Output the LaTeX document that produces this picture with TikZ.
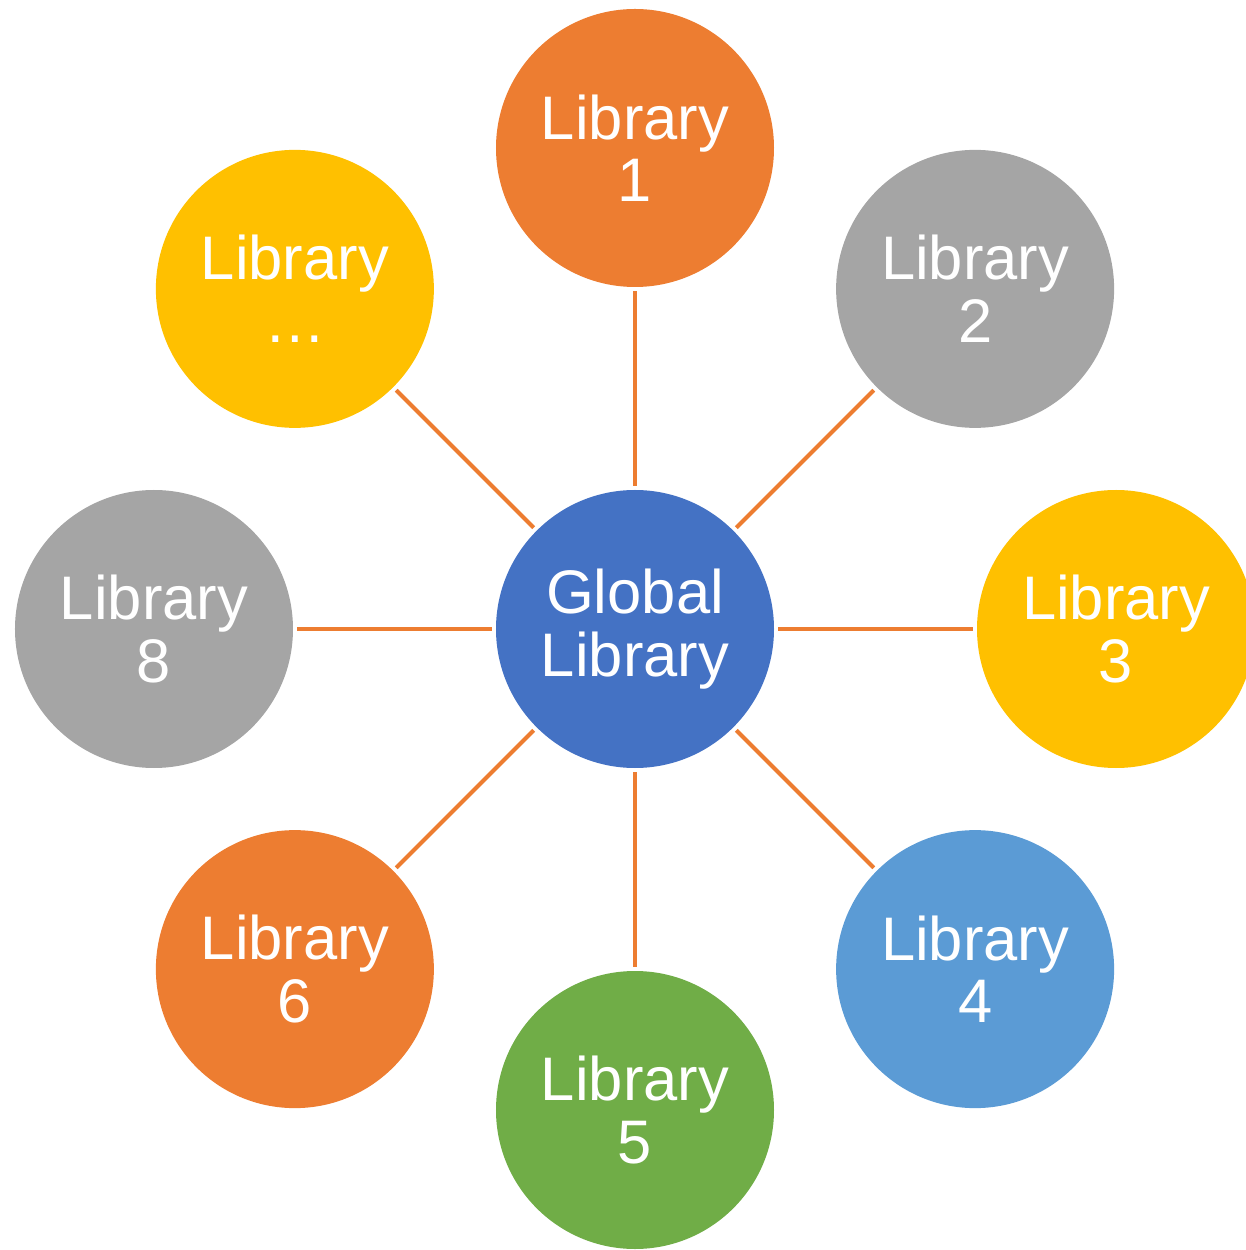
\documentclass[tikz,border=0pt]{standalone}
\usepackage{fontspec}
\setmainfont{Liberation Sans}
\usetikzlibrary{positioning}
\definecolor{hub}{RGB}{68,114,196}
\definecolor{orng}{RGB}{237,125,49}
\definecolor{grey}{RGB}{165,165,165}
\definecolor{gold}{RGB}{255,192,0}
\definecolor{sky}{RGB}{91,155,213}
\definecolor{leaf}{RGB}{112,173,71}
\tikzset{
  lib/.style={circle, minimum size=5.56cm, inner sep=0pt, align=center, text=white,
    font=\fontsize{35}{35.5}\selectfont},
  spoke/.style={draw=orng, line width=2.3pt, shorten <=0.08cm, shorten >=0.08cm},
}

\begin{document}
\begin{tikzpicture}
  \useasboundingbox (-12.7,-12.42) rectangle (12.22,12.58);
  % hub in the middle, eight libraries round it
  \node[lib, fill=hub] (global) at (0,0) {Global\\Library};
  \node[lib, fill=orng] (lib1) at (90:9.62) {Library\\1};
  \node[lib, fill=grey] (lib2) at (45:9.62) {Library\\2};
  \node[lib, fill=gold] (lib3) at (0:9.62) {Library\\3};
  \node[lib, fill=sky]  (lib4) at (-45:9.62) {Library\\4};
  \node[lib, fill=leaf] (lib5) at (-90:9.62) {Library\\5};
  \node[lib, fill=orng] (lib6) at (-135:9.62) {Library\\6};
  \node[lib, fill=grey] (lib8) at (180:9.62) {Library\\8};
  \node[lib, fill=gold] (libx) at (135:9.62) {Library\\…};
  \foreach \n in {lib1,lib2,lib3,lib4,lib5,lib6,lib8,libx}
    \draw[spoke] (global) -- (\n);
\end{tikzpicture}
\end{document}
